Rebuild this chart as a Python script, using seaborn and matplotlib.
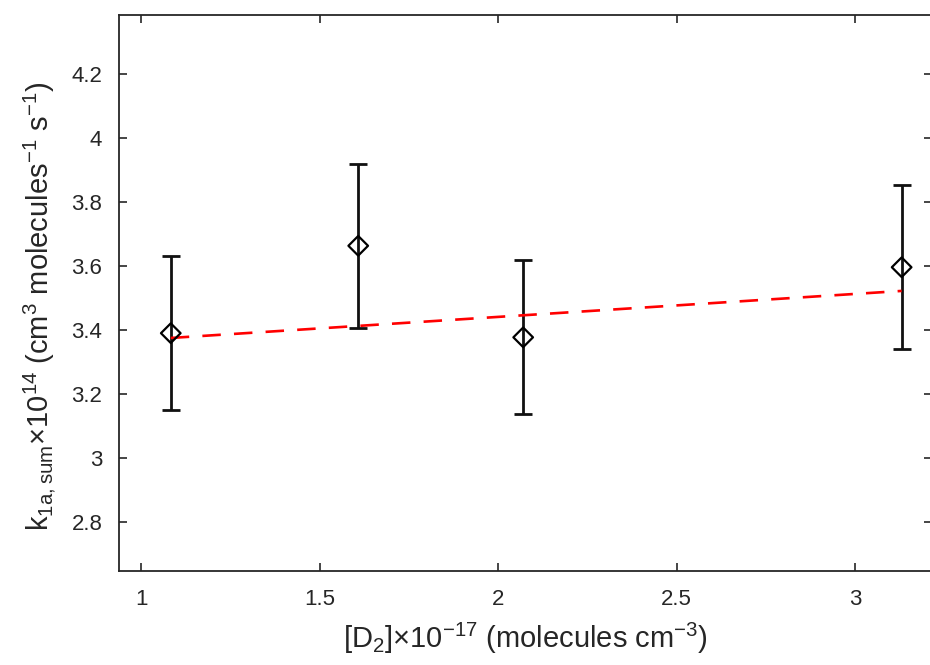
import numpy as np
import pandas as pd
import seaborn as sns
import matplotlib.pyplot as plt

# Data
d2 = [1.083, 1.608, 2.07, 3.13]          # [D2] x 1e-17
k1a = [3.39, 3.663, 3.377, 3.596]        # k1a,sum x 1e14
k1a_err = [0.24, 0.257, 0.241, 0.257]
fit_x = [1.083, 3.13]
fit_y = [3.375, 3.522]

x_ticks = [1, 1.5, 2, 2.5, 3]
x_tick_labels = ["1", "1.5", "2", "2.5", "3"]
y_ticks = [2.8, 3.0, 3.2, 3.4, 3.6, 3.8, 4.0, 4.2]
y_tick_labels = ["2.8", "3", "3.2", "3.4", "3.6", "3.8", "4", "4.2"]

df = pd.DataFrame({"d2": d2, "k1a": k1a, "err": k1a_err})
fit = pd.DataFrame({"x": fit_x, "y": fit_y})

sns.set_style("white")
plt.rcParams["font.family"] = ["Liberation Sans", "DejaVu Sans"]
plt.rcParams["mathtext.default"] = "regular"
dark = "#262626"

fig = plt.figure(figsize=(9.3, 6.65), dpi=100)
ax = fig.add_axes([119 / 930, 94 / 665, 813 / 930, 556 / 665])

# error bars
ax.errorbar(df["d2"], df["k1a"], yerr=df["err"], fmt="none", ecolor="#111111",
            elinewidth=2.0, capsize=6.2, capthick=2.0, zorder=2)
# linear fit
sns.lineplot(data=fit, x="x", y="y", ax=ax, color="red", lw=1.9,
             linestyle=(0, (7.0, 5.0)), zorder=3)
# open diamonds
sns.scatterplot(data=df, x="d2", y="k1a", ax=ax, marker="D", s=100,
                facecolor="none", edgecolor="black", linewidth=1.6, zorder=4)

ax.set_xlim(0.938, 3.215)
ax.set_ylim(2.647, 4.384)
ax.set_xticks(x_ticks)
ax.set_xticklabels(x_tick_labels)
ax.set_yticks(y_ticks)
ax.set_yticklabels(y_tick_labels)

ax.tick_params(axis="both", direction="in", length=6, width=1.2, colors=dark,
               labelsize=16, top=True, right=True, bottom=True, left=True)
ax.tick_params(axis="y", pad=12)
ax.tick_params(axis="x", pad=13)
for s in ax.spines.values():
    s.set_color(dark)
    s.set_linewidth(1.3)

ax.set_xlabel(r"[D$_2$]×10$^{-17}$ (molecules cm$^{-3}$)", fontsize=21,
              color=dark, labelpad=8)
ax.set_ylabel(r"k$_{1a,sum}$×10$^{14}$ (cm$^3$ molecules$^{-1}$ s$^{-1}$)",
              fontsize=21, color=dark)
ax.yaxis.set_label_coords(-0.075, 0.475)

fig.savefig("out.png", dpi=100)
